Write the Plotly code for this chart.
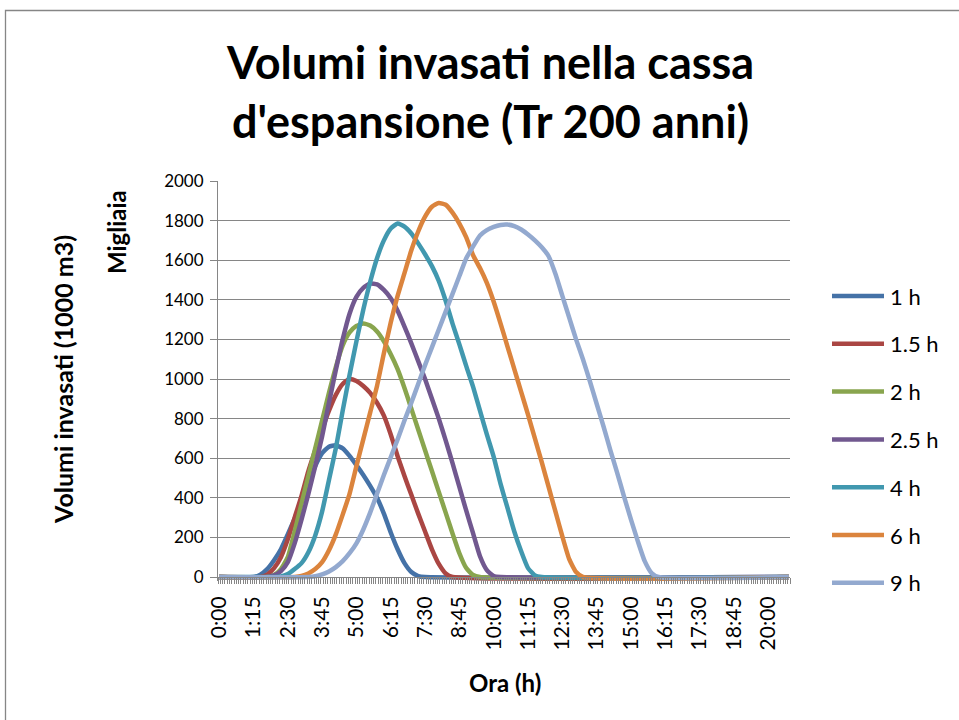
import plotly.graph_objects as go

# ---- data: stored volumes (thousands of m3) vs time of day, one series per rain duration ----
SERIES_NAMES = ["1 h", "1.5 h", "2 h", "2.5 h", "4 h", "6 h", "9 h"]
SERIES_COLORS = ["#4572A7", "#AA4643", "#89A54E", "#71588F", "#4198AF", "#DB843D", "#93A9CF"]

t_1h = ["0:00", "1:15", "1:30", "1:45", "2:00", "2:15", "2:30", "2:45", "3:00", "3:15", "3:30",
        "3:45", "4:00", "4:15", "4:30", "4:45", "5:00", "5:15", "5:30", "5:45", "6:00", "6:15",
        "6:30", "6:45", "7:00", "7:15", "7:30", "20:45"]
v_1h = [0, 0, 12, 40, 85, 140, 215, 295, 380, 470, 560,
        625, 658, 665, 650, 612, 565, 515, 460, 400, 320, 225,
        140, 70, 25, 5, 0, 0]

t_15h = ["0:00", "1:30", "1:45", "2:00", "2:15", "2:30", "2:45", "3:00", "3:15", "3:30", "3:45",
         "4:00", "4:15", "4:30", "4:45", "5:00", "5:15", "5:30", "5:45", "6:00", "6:15", "6:30",
         "6:45", "7:00", "7:15", "7:30", "7:45", "8:00", "8:15", "8:30", "20:45"]
v_15h = [0, 0, 12, 45, 100, 190, 300, 410, 535, 640, 745,
         840, 920, 975, 1000, 990, 965, 930, 880, 815, 720, 610,
         510, 415, 320, 230, 140, 66, 18, 0, 0]

t_2h = ["0:00", "1:45", "2:00", "2:15", "2:30", "2:45", "3:00", "3:15", "3:30", "3:45", "4:00",
        "4:15", "4:30", "4:45", "5:00", "5:15", "5:30", "5:45", "6:00", "6:15", "6:30", "6:45",
        "7:00", "7:15", "7:30", "7:45", "8:00", "8:15", "8:30", "8:45", "9:00", "9:15", "9:30", "20:45"]
v_2h = [0, 0, 10, 40, 100, 230, 370, 510, 650, 790, 930,
        1060, 1170, 1235, 1268, 1280, 1270, 1240, 1190, 1125, 1050, 955,
        850, 745, 640, 535, 430, 325, 220, 120, 45, 10, 0, 0]

t_25h = ["0:00", "1:45", "2:00", "2:15", "2:30", "2:45", "3:00", "3:15", "3:30", "3:45", "4:00",
         "4:15", "4:30", "4:45", "5:00", "5:15", "5:30", "5:45", "6:00", "6:15", "6:30", "6:45",
         "7:00", "7:15", "7:30", "7:45", "8:00", "8:15", "8:30", "8:45", "9:00", "9:15", "9:30",
         "9:45", "10:00", "10:15", "20:45"]
v_25h = [0, 0, 8, 30, 75, 170, 290, 420, 560, 710, 880,
         1045, 1200, 1330, 1415, 1460, 1482, 1478, 1450, 1408, 1345, 1265,
         1180, 1090, 1000, 900, 800, 690, 575, 455, 335, 220, 105,
         35, 5, 0, 0]

t_4h = ["0:00", "2:00", "2:15", "2:30", "2:45", "3:00", "3:15", "3:30", "3:45", "4:00", "4:15",
        "4:30", "4:45", "5:00", "5:15", "5:30", "5:45", "6:00", "6:15", "6:30", "6:45", "7:00",
        "7:15", "7:30", "7:45", "8:00", "8:15", "8:30", "8:45", "9:00", "9:15", "9:30", "9:45",
        "10:00", "10:15", "10:30", "10:45", "11:00", "11:15", "11:30", "11:45", "20:45"]
v_4h = [0, 0, 3, 15, 40, 70, 125, 210, 330, 490, 650,
        840, 1020, 1190, 1350, 1490, 1610, 1700, 1760, 1785, 1770, 1735,
        1685, 1630, 1570, 1495, 1395, 1280, 1175, 1065, 960, 840, 720,
        607, 470, 350, 230, 130, 45, 8, 0, 0]

t_6h = ["0:00", "2:45", "3:00", "3:15", "3:30", "3:45", "4:00", "4:15", "4:30", "4:45", "5:00",
        "5:15", "5:30", "5:45", "6:00", "6:15", "6:30", "6:45", "7:00", "7:15", "7:30", "7:45",
        "8:00", "8:15", "8:30", "8:45", "9:00", "9:15", "9:30", "9:45", "10:00", "10:15", "10:30",
        "10:45", "11:00", "11:15", "11:30", "11:45", "12:00", "12:15", "12:30", "12:45", "13:00",
        "13:15", "20:45"]
v_6h = [0, 0, 5, 18, 40, 75, 135, 215, 315, 420, 560,
        695, 830, 965, 1130, 1285, 1420, 1535, 1650, 1745, 1820, 1870,
        1889, 1880, 1840, 1785, 1715, 1625, 1560, 1485, 1390, 1280, 1165,
        1050, 935, 820, 700, 580, 455, 330, 205, 90, 25,
        0, 0]

t_9h = ["0:00", "3:15", "3:30", "3:45", "4:00", "4:15", "4:30", "4:45", "5:00", "5:15", "5:30",
        "5:45", "6:00", "6:15", "6:30", "6:45", "7:00", "7:15", "7:30", "7:45", "8:00", "8:15",
        "8:30", "8:45", "9:00", "9:15", "9:30", "9:45", "10:00", "10:15", "10:30", "10:45", "11:00",
        "11:15", "11:30", "11:45", "12:00", "12:15", "12:30", "12:45", "13:00", "13:15", "13:30",
        "13:45", "14:00", "14:15", "14:30", "14:45", "15:00", "15:15", "15:30", "15:45", "16:00",
        "20:45"]
v_9h = [0, 0, 4, 13, 28, 50, 80, 120, 170, 240, 325,
        420, 515, 605, 695, 790, 880, 975, 1070, 1160, 1250, 1340,
        1430, 1520, 1610, 1670, 1725, 1752, 1768, 1778, 1780, 1772, 1755,
        1730, 1700, 1665, 1620, 1530, 1420, 1310, 1200, 1100, 990,
        875, 760, 640, 525, 405, 290, 180, 80, 20, 0,
        0]

X_TICK_LABELS = ["0:00", "1:15", "2:30", "3:45", "5:00", "6:15", "7:30", "8:45", "10:00",
                 "11:15", "12:30", "13:45", "15:00", "16:15", "17:30", "18:45", "20:00"]
Y_TICKS = [0, 200, 400, 600, 800, 1000, 1200, 1400, 1600, 1800, 2000]
Y_MAX = 2000

SERIES_T = [t_1h, t_15h, t_2h, t_25h, t_4h, t_6h, t_9h]
SERIES_V = [v_1h, v_15h, v_2h, v_25h, v_4h, v_6h, v_9h]


def to_min(s):
    h, m = s.split(":")
    return int(h) * 60 + int(m)


# ---- layout geometry (pixels) ----
W, H = 959, 720
PL, PR, PT = 218, 790, 181
Y0_PX = 577            # pixel row of the value 0
PB = Y0_PX + 4         # plot area extends a little below 0 so lines at 0 are not clipped
FONT = "Lato, Calibri, 'Open Sans', sans-serif"
GRID = "#868686"
LINE_W = 4.5

UNITS_PER_PX = Y_MAX / (Y0_PX - PT)
Y_MIN = -(PB - Y0_PX) * UNITS_PER_PX


def px(xp):
    return (xp - PL) / (PR - PL)


def py(yp):
    return (PB - yp) / (PB - PT)


fig = go.Figure()
for name, color, ts, vs in zip(SERIES_NAMES, SERIES_COLORS, SERIES_T, SERIES_V):
    fig.add_trace(go.Scatter(
        x=[to_min(t) for t in ts], y=vs, name=name,
        mode="lines", line=dict(color=color, width=LINE_W, shape="spline", smoothing=0.5),
        hoverinfo="x+y+name", showlegend=False,
    ))

fig.update_layout(
    width=W, height=H,
    margin=dict(l=PL, r=W - PR, t=PT, b=H - PB, pad=0),
    paper_bgcolor="white", plot_bgcolor="white",
    font=dict(family=FONT, color="black", size=18),
    showlegend=False,
    xaxis=dict(
        range=[-2.5, 1247.5], showgrid=False, zeroline=False,
        anchor="free", position=py(Y0_PX),
        showline=True, linecolor=GRID, linewidth=1,
        tickmode="array", tickvals=[to_min(s) for s in X_TICK_LABELS], ticktext=X_TICK_LABELS,
        ticks="", tickangle=-90, tickfont=dict(family=FONT, size=21, color="black"),
        ticklabelstandoff=10,
        minor=dict(tick0=-2.5, dtick=5, ticks="outside", ticklen=6,
                   tickcolor=GRID, tickwidth=1, showgrid=False),
    ),
    yaxis=dict(
        range=[Y_MIN, Y_MAX], tickmode="array", tickvals=Y_TICKS,
        showgrid=True, gridcolor=GRID, gridwidth=1, zeroline=False,
        showline=True, linecolor=GRID, linewidth=1,
        ticks="outside", ticklen=7, tickcolor=GRID, tickwidth=1,
        tickfont=dict(family=FONT, size=17, color="black"), ticklabelstandoff=3,
    ),
)

# legend: sample line + label for each series
LEG_Y0, LEG_STEP = 296, 47.8
for i, (name, color) in enumerate(zip(SERIES_NAMES, SERIES_COLORS)):
    yy = py(LEG_Y0 + i * LEG_STEP)
    fig.add_shape(type="line", xref="paper", yref="paper", x0=px(832), x1=px(884),
                  y0=yy, y1=yy, line=dict(color=color, width=LINE_W))
    fig.add_annotation(text=name, xref="paper", yref="paper", x=px(888), y=yy,
                       xanchor="left", yanchor="middle", showarrow=False,
                       font=dict(family=FONT, size=22, color="black"))

# chart title, two lines
fig.add_annotation(text="<b>Volumi invasati nella cassa</b>", xref="paper", yref="paper",
                   x=px(490), y=py(62), xanchor="center", yanchor="middle", showarrow=False,
                   font=dict(family=FONT, size=45, color="black"))
fig.add_annotation(text="<b>d'espansione (Tr 200 anni)</b>", xref="paper", yref="paper",
                   x=px(490), y=py(121), xanchor="center", yanchor="middle", showarrow=False,
                   font=dict(family=FONT, size=45, color="black"))

# axis titles and display-units label
fig.add_annotation(text="<b>Volumi invasati (1000 m3)</b>", xref="paper", yref="paper",
                   x=px(63), y=py(380), xanchor="center", yanchor="middle", showarrow=False,
                   textangle=-90, font=dict(family=FONT, size=25, color="black"))
fig.add_annotation(text="<b>Migliaia</b>", xref="paper", yref="paper",
                   x=px(117), y=py(232), xanchor="center", yanchor="middle", showarrow=False,
                   textangle=-90, font=dict(family=FONT, size=24, color="black"))
fig.add_annotation(text="<b>Ora (h)</b>", xref="paper", yref="paper",
                   x=px(505), y=py(682), xanchor="center", yanchor="middle", showarrow=False,
                   font=dict(family=FONT, size=24, color="black"))

# chart area frame
fig.add_shape(type="rect", xref="paper", yref="paper",
              x0=px(5.5), x1=px(980), y0=py(10.5), y1=py(740),
              line=dict(color=GRID, width=1.3), fillcolor="rgba(0,0,0,0)", layer="below")

fig.write_html("out.html")
